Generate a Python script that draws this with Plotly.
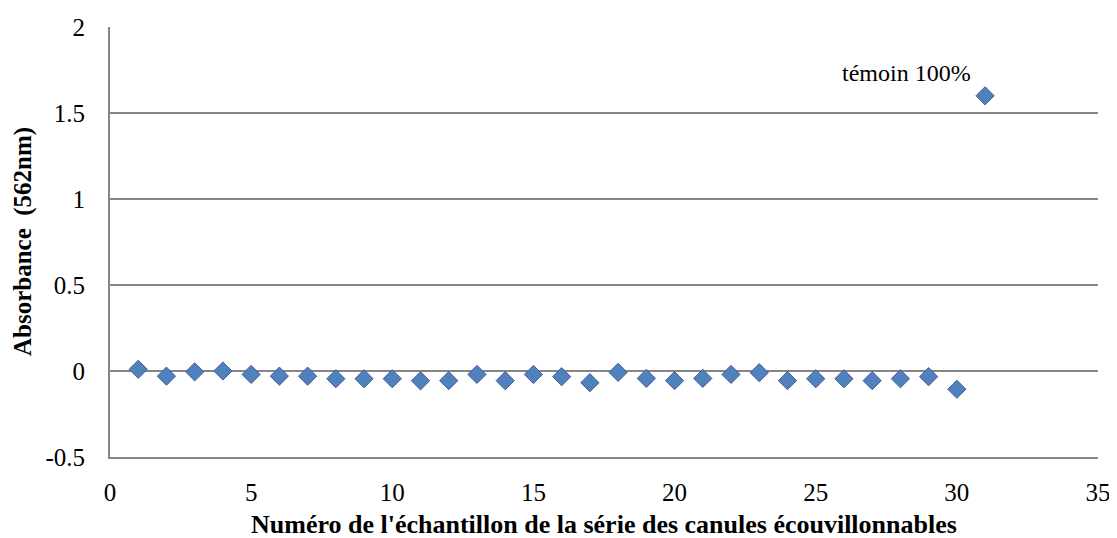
import plotly.graph_objects as go

sample_no = list(range(1, 32))
absorbance = [0.01, -0.03, -0.005, 0.0, -0.02, -0.03, -0.03, -0.045, -0.045, -0.045,
              -0.057, -0.056, -0.02, -0.056, -0.02, -0.033, -0.068, -0.008, -0.043, -0.056,
              -0.043, -0.02, -0.01, -0.056, -0.045, -0.045, -0.056, -0.045, -0.033, -0.106,
              1.6]
x_ticks = [0, 5, 10, 15, 20, 25, 30, 35]
y_ticks = [-0.5, 0, 0.5, 1, 1.5, 2]
y_ticktext = ["-0.5", "0", "0.5", "1", "1.5", "2"]
annot_text = "témoin 100%"
x_title = "Numéro de l'échantillon de la série des canules écouvillonnables"
y_title = "Absorbance  (562nm)"

font = "Liberation Serif"
grid = "#868686"

fig = go.Figure()
fig.add_trace(go.Scatter(
    x=sample_no, y=absorbance, mode="markers",
    marker=dict(symbol="diamond", size=14, color="#4F81BD",
                line=dict(color="#4B5A9A", width=1)),
    showlegend=False, hoverinfo="x+y"))

# label of the control point
fig.add_annotation(x=sample_no[-1], y=absorbance[-1], text=annot_text,
                   showarrow=False, xanchor="right", yanchor="middle",
                   xshift=-12, yshift=23,
                   font=dict(family=font, size=24, color="black"))

# axis titles
fig.add_annotation(xref="paper", yref="paper", x=0.5, y=0, text="<b>" + x_title + "</b>",
                   showarrow=False, xanchor="center", yanchor="middle", yshift=-67,
                   borderpad=0,
                   font=dict(family=font, size=26, color="black"))
fig.add_annotation(xref="paper", yref="paper", x=0, y=0.5, text="<b>" + y_title + "</b>",
                   showarrow=False, xanchor="center", yanchor="middle", xshift=-87,
                   textangle=-90, borderpad=0,
                   font=dict(family=font, size=25, color="black"))

fig.update_layout(
    width=1109, height=530,
    margin=dict(l=102, r=19, t=19, b=81),
    plot_bgcolor="white", paper_bgcolor="white",
    font=dict(family=font, size=25, color="black"),
    xaxis=dict(range=[0, 35], tickvals=x_ticks, showgrid=False, zeroline=False,
               showline=True, linecolor=grid, linewidth=2, automargin=False,
               ticks="outside", ticklen=12, tickcolor="rgba(0,0,0,0)",
               tickfont=dict(family=font, size=25)),
    yaxis=dict(range=[-0.5, 2], tickvals=y_ticks, ticktext=y_ticktext,
               showgrid=True, gridcolor=grid, gridwidth=1.5, automargin=False,
               zeroline=False, showline=True, linecolor=grid, linewidth=2,
               ticks="outside", ticklen=18, tickcolor="rgba(0,0,0,0)",
               tickfont=dict(family=font, size=25)),
)

fig.write_html("out.html")
